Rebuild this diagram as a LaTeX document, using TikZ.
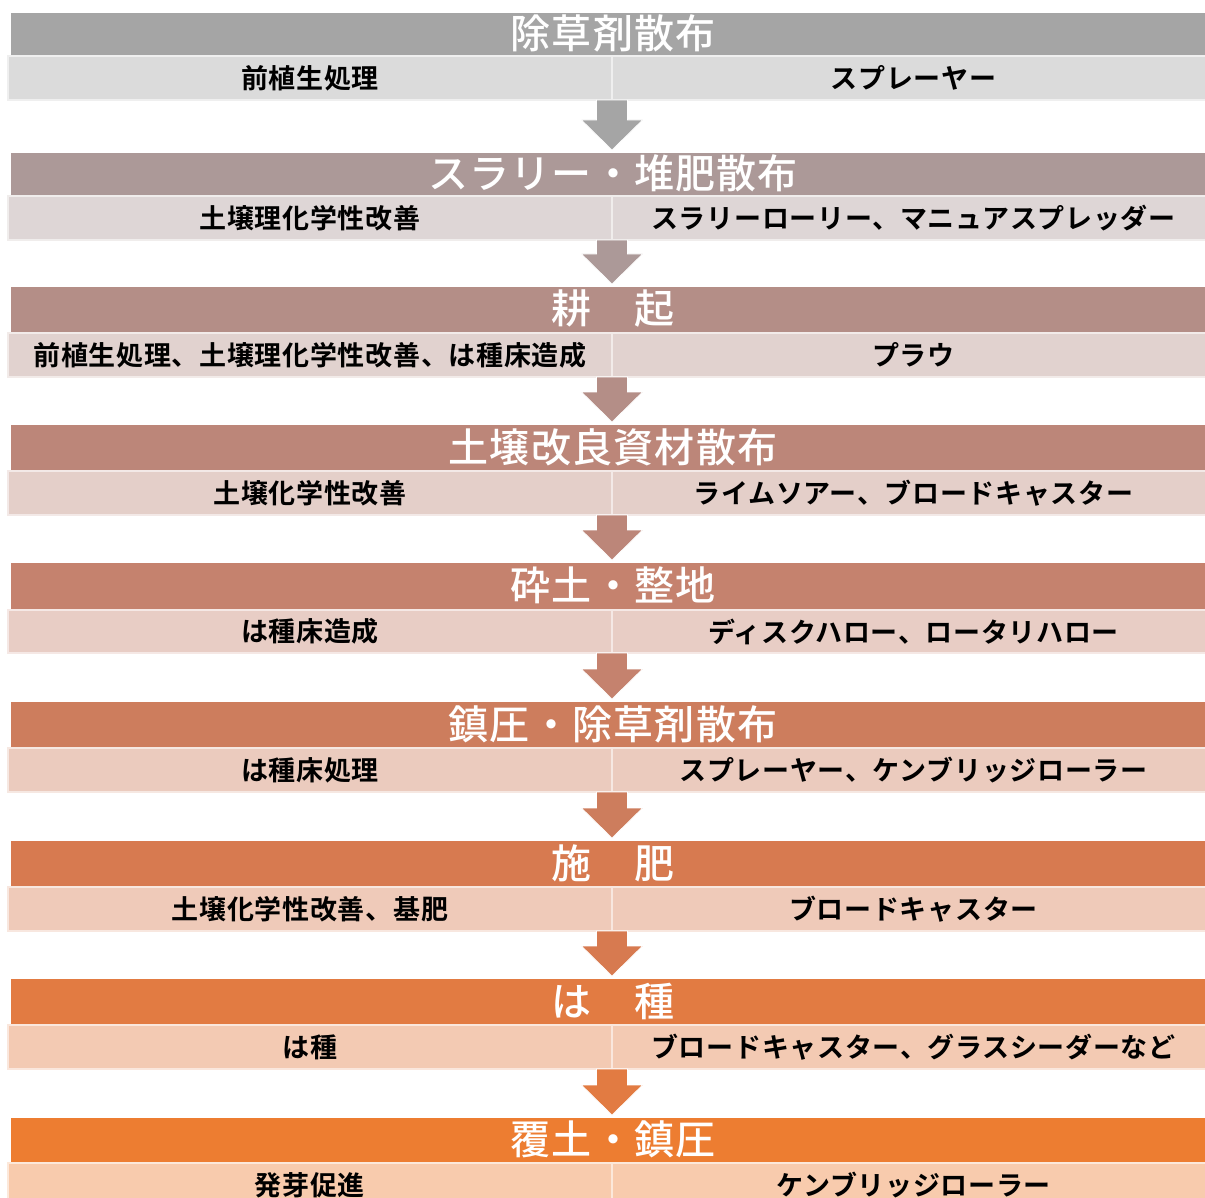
\documentclass[tikz,border=0pt]{standalone}
\usepackage{fontspec}
\setmainfont{Noto Sans CJK JP}
\newfontfamily\titlefont[LetterSpace=3]{Noto Sans CJK JP Medium}
\newfontfamily\cellfont[LetterSpace=2.5]{Noto Sans CJK JP Bold}
\usetikzlibrary{calc}
\definecolor{hc1}{HTML}{A5A5A5}
\definecolor{hc2}{HTML}{AC9998}
\definecolor{hc3}{HTML}{B48E87}
\definecolor{hc4}{HTML}{BC8679}
\definecolor{hc5}{HTML}{C5826E}
\definecolor{hc6}{HTML}{CD7D5D}
\definecolor{hc7}{HTML}{D77A50}
\definecolor{hc8}{HTML}{E27B42}
\definecolor{hc9}{HTML}{ED7D31}
\tikzset{
  hdr/.style={inner sep=0pt, outer sep=0pt, minimum width=1204},
  ttl/.style={inner sep=0pt, text=white, font=\titlefont\fontsize{40}{44}\selectfont},
  subc/.style={inner sep=0pt, outer sep=0pt, line width=1.5pt,
    font=\cellfont\fontsize{27}{30}\selectfont, text=black},
  flowarrow/.style={line width=0.6pt, draw=white}
}
% #1 index, #2 header top, #3 header bottom, #4 sub bottom, #5 title, #6 left, #7 right
\newcommand\blk[7]{%
  \node[hdr, fill=hc#1, minimum height={#3-#2}] (h#1) at (613,{(#2+#3)/2}) {};
  \node[ttl] (t#1) at (613,{(#2+#3)/2-1}) {#5};
  \node[subc, fill=hc#1!40!white, draw=hc#1!18!white, minimum width=604, minimum height={#4-#3}] (l#1) at (310,{(#3+#4)/2}) {#6};
  \node[subc, fill=hc#1!40!white, draw=hc#1!18!white, minimum width=603, minimum height={#4-#3}] (r#1) at (913.5,{(#3+#4)/2}) {#7};
}
\newcommand\arr[2]{%
  \path let \p1=(l#1.south east), \p2=(h#2.north) in
    [flowarrow, fill=hc#1]
    (\x1-15.5pt,\y1) -- (\x1+15.5pt,\y1) -- (\x1+15.5pt,\y2+33pt) -- (\x1+30.5pt,\y2+33pt)
    -- (\x1,\y2+3pt) -- (\x1-30.5pt,\y2+33pt) -- (\x1-15.5pt,\y2+33pt) -- cycle;
}
\begin{document}
\begin{tikzpicture}[x=1pt,y=-1pt]
\useasboundingbox[fill=white] (0,0) rectangle (1205,1198);
\blk{1}{13}{56}{100}{除草剤散布}{前植生処理}{スプレーヤー}
\blk{2}{153}{196}{240}{スラリー・堆肥散布}{土壌理化学性改善}{スラリーローリー、マニュアスプレッダー}
\blk{3}{287}{333}{377}{耕　起}{前植生処理、土壌理化学性改善、は種床造成}{プラウ}
\blk{4}{425}{471}{515}{土壌改良資材散布}{土壌化学性改善}{ライムソアー、ブロードキャスター}
\blk{5}{563}{610}{653}{砕土・整地}{は種床造成}{ディスクハロー、ロータリハロー}
\blk{6}{702}{748}{792}{鎮圧・除草剤散布}{は種床処理}{スプレーヤー、ケンブリッジローラー}
\blk{7}{841}{887}{931}{施　肥}{土壌化学性改善、基肥}{ブロードキャスター}
\blk{8}{979}{1025}{1069}{は　種}{は種}{ブロードキャスター、グラスシーダーなど}
\blk{9}{1118}{1163}{1207}{覆土・鎮圧}{発芽促進}{ケンブリッジローラー}
\arr{1}{2}
\arr{2}{3}
\arr{3}{4}
\arr{4}{5}
\arr{5}{6}
\arr{6}{7}
\arr{7}{8}
\arr{8}{9}
\end{tikzpicture}
\end{document}
